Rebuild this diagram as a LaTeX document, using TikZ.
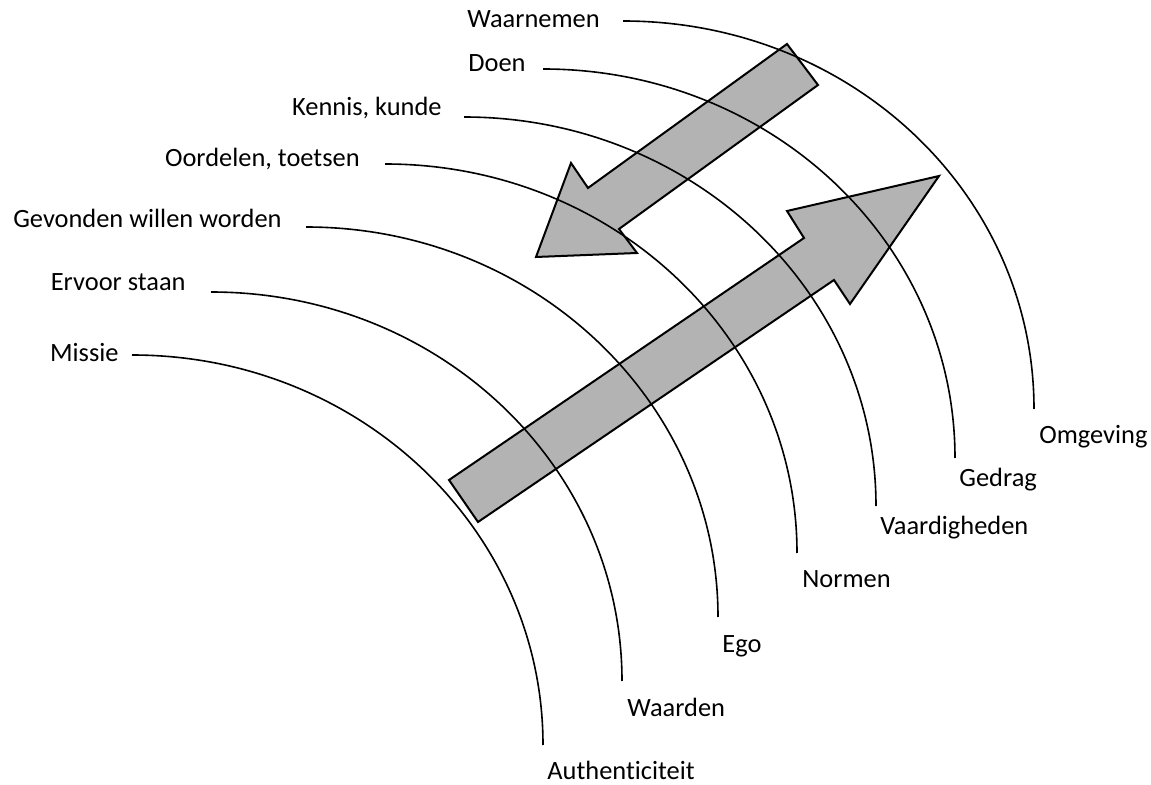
\documentclass[tikz,border=0pt]{standalone}
\usepackage{fontspec}
\setmainfont{Carlito}[Ligatures=NoCommon]
\usepackage{tikz}
\definecolor{arrowgray}{RGB}{179,179,179}
\tikzset{
    ring/.style={line width=0.8pt},
    lbl/.style={inner sep=0pt},
    blockarrow/.style={
        draw,
        line width=1pt,
        fill=arrowgray,
        line join=miter
    },
    font={\fontsize{13.2pt}{15}\selectfont},
}

\begin{document}
\begin{tikzpicture}[x=0.5pt, y=-0.5pt]
\useasboundingbox (0,0) rectangle (1151,785);

% block arrows (below the rings)
\draw[blockarrow] (449,480) -- (804,238) -- (787,211) -- (939,176) -- (850,304) -- (834,280) -- (478,522) -- cycle;
\draw[blockarrow] (787,44) -- (588,188) -- (571,163) -- (536,257) -- (637,253) -- (619,229) -- (818,85) -- cycle;

% left labels
\node[lbl, anchor=base east] (waarnemen) at (600,28) {Waarnemen};
\node[lbl, anchor=base east] (doen) at (526,72) {Doen};
\node[lbl, anchor=base east] (kennis) at (442,116) {Kennis, kunde};
\node[lbl, anchor=base east] (oordelen) at (360,167) {Oordelen, toetsen};
\node[lbl, anchor=base east] (gevonden) at (282,228) {Gevonden willen worden};
\node[lbl, anchor=base east] (ervoor) at (186,291) {Ervoor staan};
\node[lbl, anchor=base east] (missie) at (119,362) {Missie};

% bottom labels
\node[lbl, anchor=base west] (omgeving) at (1039,444) {Omgeving};
\node[lbl, anchor=base west] (gedrag) at (959,487) {Gedrag};
\node[lbl, anchor=base west] (vaardigheden) at (880,535) {Vaardigheden};
\node[lbl, anchor=base west] (normen) at (802,588) {Normen};
\node[lbl, anchor=base west] (ego) at (722,653) {Ego};
\node[lbl, anchor=base west] (waarden) at (627,716) {Waarden};
\node[lbl, anchor=base west] (authenticiteit) at (547,779) {Authenticiteit};

% ring ends
\coordinate (waarnemen-a) at (623,21);  \coordinate (omgeving-b) at (1034,409);
\coordinate (doen-a) at (543,69);       \coordinate (gedrag-b) at (955,458);
\coordinate (kennis-a) at (464,117);    \coordinate (vaardigheden-b) at (876,506);
\coordinate (oordelen-a) at (385,164);  \coordinate (normen-b) at (797,553);
\coordinate (gevonden-a) at (306,227);  \coordinate (ego-b) at (718,617);
\coordinate (ervoor-a) at (211,292);    \coordinate (waarden-b) at (622,681);
\coordinate (missie-a) at (132,355);    \coordinate (authenticiteit-b) at (543,745);

\draw[ring] (waarnemen-a) .. controls +(228,0) and +(0,-215) .. (omgeving-b);
\draw[ring] (doen-a) .. controls +(228,0) and +(0,-215) .. (gedrag-b);
\draw[ring] (kennis-a) .. controls +(228,0) and +(0,-215) .. (vaardigheden-b);
\draw[ring] (oordelen-a) .. controls +(228,0) and +(0,-215) .. (normen-b);
\draw[ring] (gevonden-a) .. controls +(228,0) and +(0,-215) .. (ego-b);
\draw[ring] (ervoor-a) .. controls +(228,0) and +(0,-215) .. (waarden-b);
\draw[ring] (missie-a) .. controls +(228,0) and +(0,-215) .. (authenticiteit-b);
\end{tikzpicture}
\end{document}
